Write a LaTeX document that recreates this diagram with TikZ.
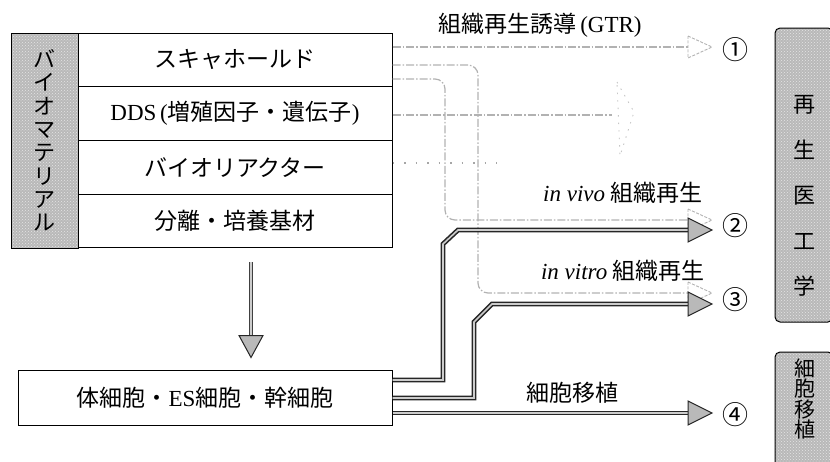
\documentclass[tikz,border=0pt]{standalone}
\usepackage{fontspec}
\setmainfont{Liberation Serif}
\newfontfamily\jp{Noto Sans CJK JP}
\usetikzlibrary{patterns,calc}
\tikzset{
  rowbox/.style={draw=black, line width=1pt, minimum width=314pt, minimum height=53.75pt, inner sep=0pt, font=\fontsize{23}{26}\selectfont},
  shadebox/.style={preaction={fill=gray!55}, pattern=crosshatch dots, pattern color=gray!20, draw=black, line width=1pt},
  faint/.style={draw=gray!60, line width=1.2pt, dash pattern=on 8pt off 2pt on 1.5pt off 2pt},
  dotline/.style={draw=gray!70, line width=1.2pt, dash pattern=on 1.5pt off 10pt},
  hollowhead/.style={draw=gray!60, dash pattern=on 3pt off 1.5pt, line width=0.9pt, fill=white},
  fathead/.style={draw=black!85, fill=gray!55, line width=1pt, line join=miter},
  fat/.style={preaction={draw=black!85, line width=4.8pt}, draw=gray!40, line width=1.6pt, line join=miter},
  num/.style={font=\jp\fontsize{26}{26}\selectfont, inner sep=0pt},
  lbl/.style={font=\fontsize{23}{26}\selectfont, inner sep=0pt},
  pics/fathd/.style={code={\filldraw[fathead] (-24,-12) -- (0,0) -- (-24,12) -- cycle;}},
  pics/hollowhd/.style={code={\filldraw[hollowhead] (-24,-11) -- (0,0) -- (-24,11) -- cycle;}},
}
\begin{document}
\begin{tikzpicture}[x=1pt,y=-1pt]
\useasboundingbox (0,0) rectangle (830,461);
\clip (0,0) rectangle (830,461);

% left biomaterial block
\node[shadebox, minimum width=67pt, minimum height=215pt, inner sep=0pt,
      font=\jp\fontsize{22}{23.3}\selectfont, align=center] (side) at (44.5,140.5)
      {バ\\イ\\オ\\マ\\テ\\リ\\ア\\ル};
\node[rowbox] (r1) at (235,59.9) {\jp スキャホールド};
\node[rowbox] (r2) at (235,113.6) {DDS\,({\jp 増殖因子・遺伝子})};
\node[rowbox] (r3) at (235,167.4) {\jp バイオリアクター};
\node[rowbox] (r4) at (235,221.1) {\jp 分離・培養基材};

% cell box
\node[draw=black, line width=1pt, minimum width=374pt, minimum height=55pt, inner sep=0pt,
      font=\fontsize{23}{26}\selectfont] (cell) at (205,397.5)
      {{\jp 体細胞・}ES{\jp 細胞・幹細胞}};

% right shaded boxes
\node[shadebox, rounded corners=5pt, minimum width=58pt, minimum height=294pt, inner sep=0pt] (regen) at (804,175) {};
\node[font=\jp\fontsize{22}{45.5}\selectfont, align=center, inner sep=0pt] (regent) at (804,196) {再\\生\\医\\工\\学};
\node[shadebox, rounded corners=5pt, minimum width=58pt, minimum height=120pt, inner sep=0pt] (trans) at (804,412) {};
\node[font=\jp\fontsize{21}{20.5}\selectfont, align=center, inner sep=0pt] (transt) at (805,399) {細\\胞\\移\\植};

% circled numbers
\node[num] (n1) at (735,50) {①};
\node[num] (n2) at (735,226) {②};
\node[num] (n3) at (735,300) {③};
\node[num] (n4) at (735,415) {④};

% labels
\node[lbl] (lgtr) at (540,25) {{\jp 組織再生誘導}\,(GTR)};
\node[lbl] (lvivo) at (623,193) {\textit{in vivo} {\jp 組織再生}};
\node[lbl] (lvitro) at (623,271) {\textit{in vitro} {\jp 組織再生}};
\node[lbl, font=\jp\fontsize{23}{26}\selectfont] (ltrans) at (572,393) {細胞移植};

% arrow tips
\coordinate (t1) at (712,47);
\coordinate (t2a) at (712,220);
\coordinate (t2b) at (712,230);
\coordinate (t3a) at (712,293);
\coordinate (t3b) at (712,304);
\coordinate (t4) at (712,413);

% faint (GTR-type) connectors
\draw[faint] (r1.east |- t1) -- ($(t1)+(-22,0)$);
\pic at (t1) {hollowhd};
\draw[faint, rounded corners=10pt] (r1.east |- 0,79) -- (445,79) -- (t2a -| 445,0) -- ($(t2a)+(-22,0)$);
\draw[faint, rounded corners=10pt] (r1.east |- 0,65) -- (478,65) -- (t3a -| 478,0) -- ($(t3a)+(-22,0)$);
\pic at (t2a) {hollowhd};
\pic at (t3a) {hollowhd};
\draw[faint] (r2.east |- 0,115) -- (612,115);
\draw[draw=gray!45, line width=0.9pt, dash pattern=on 1.5pt off 6pt] (617,82) -- (634,112) -- (620,156) -- cycle;
\draw[dotline] (r3.east |- 0,163) -- (497,163);

% thick connectors from cells
\draw[fat] (cell.east |- 0,380) -- (443,380) -- (443,244) -- (458,230) -- ($(t2b)+(-22,0)$);
\draw[fat] (cell.east |- 0,398) -- (474,398) -- (474,322) -- (492,304) -- ($(t3b)+(-22,0)$);
\draw[fat] (cell.east |- t4) -- ($(t4)+(-22,0)$);
\pic at (t2b) {fathd};
\pic at (t3b) {fathd};
\pic at (t4) {fathd};

% down arrow
\coordinate (dtip) at ($(cell.north -| 251,0)+(0,-12)$);
\draw[preaction={draw=black!75, line width=3.4pt}, draw=gray!40, line width=1.2pt]
  ($(r4.south -| 251,0)+(0,14)$) -- ($(dtip)+(0,-20)$);
\filldraw[fathead] ($(dtip)+(-12,-22)$) -- (dtip) -- ($(dtip)+(12,-22)$) -- cycle;
\end{tikzpicture}
\end{document}
